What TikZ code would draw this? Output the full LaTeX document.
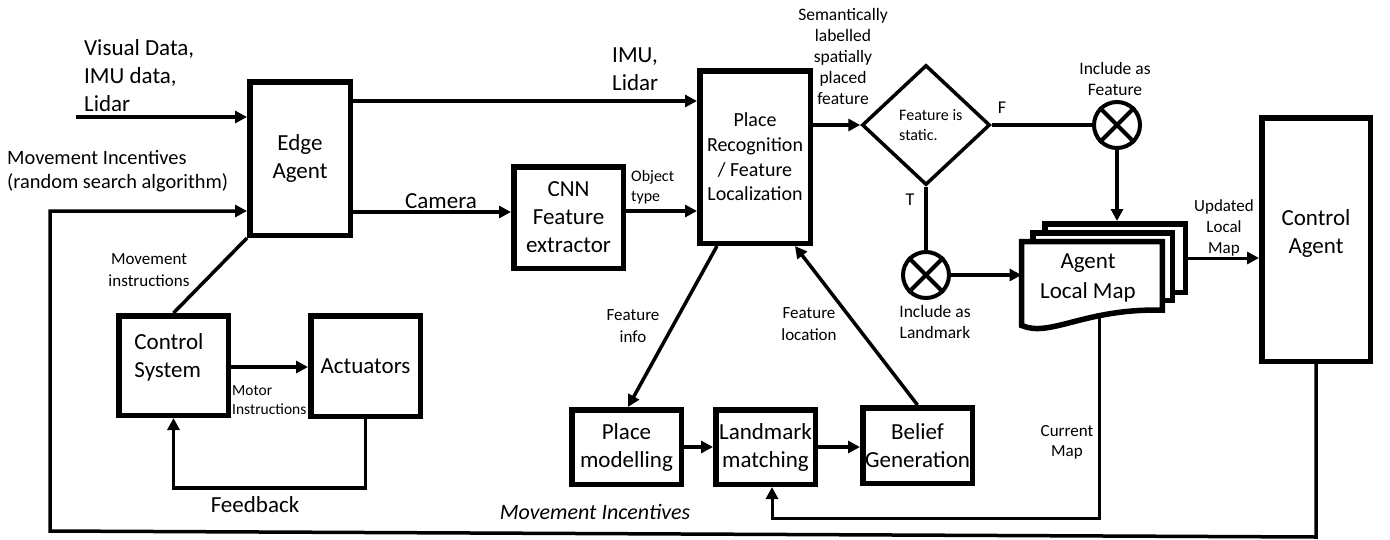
\documentclass[tikz,border=0pt]{standalone}
\usepackage{fontspec}
\setmainfont{Carlito}
\usetikzlibrary{arrows.meta,shapes.geometric}
\newcommand\fsz[2]{\fontsize{#1}{#2}\selectfont}

\begin{document}
\begin{tikzpicture}[x=1pt,y=-1pt,
  box/.style={draw, line width=5.5pt, inner sep=0pt, align=center, font=\fsz{23}{28}},
  arr/.style={line width=3.5pt, -{Triangle[length=12pt,width=12pt]}},
  ln/.style={line width=3.5pt},
  lbl/.style={font=\fsz{23}{28}, inner sep=0pt},
  sm/.style={font=\fsz{17.5}{21}, inner sep=0pt, align=center},
  dia/.style={diamond, draw, line width=3.5pt, minimum width=128pt, minimum height=120pt, inner sep=0pt},
  junction/.style={circle, draw, line width=4pt, minimum size=46pt, inner sep=0pt},
  doc/.style={draw, fill=white, line width=5.5pt, inner sep=0pt},
]
\useasboundingbox[fill=white] (0,0) rectangle (1390,539);

% reference levels for horizontal connectors
\coordinate (y1) at (0,101);
\coordinate (y2) at (0,212);
\coordinate (y3) at (0,211);
\coordinate (y5) at (0,367);
\coordinate (y6) at (0,488);
\coordinate (vin) at (76,117);
\coordinate (cm) at (1099,518);
\coordinate (b1) at (1316,537);
\coordinate (b2) at (50,531);
\coordinate (b3) at (50,211);

% blocks
\node[box, minimum width=100.5pt, minimum height=153.5pt] (ea) at (300,158.5) {Edge\\Agent};
\node[box, minimum width=109.5pt, minimum height=101.5pt] (cnn) at (568.5,217.5) {CNN\\Feature\\extractor};
\node[box, font=\fsz{20}{24.7}, minimum width=110.5pt, minimum height=172.5pt] (pr) at (755,157) {Place\\Recognition\\/ Feature\\Localization};
\node[dia] (dia) at (926,125) {};
\node[junction] (c1) at (1117,125) {};
\node[junction] (c2) at (926,275) {};
\node[box, minimum width=108.5pt, minimum height=243.5pt] (ca) at (1316,239.5) {};
\node[lbl, align=center] (catext) at (1316,233) {Control\\Agent};
\node[box, minimum width=109.5pt, minimum height=99.5pt] (cs) at (173.5,365.5) {};
\node[lbl, align=left] (cstext) at (169,357) {Control\\System};
\node[box, minimum width=109.5pt, minimum height=100.5pt] (act) at (365.5,366) {Actuators};
\node[box, minimum width=109.5pt, minimum height=74.5pt] (pm) at (626.5,447) {Place\\modelling};
\node[box, minimum width=99.5pt, minimum height=74.5pt] (lm) at (765.5,447) {Landmark\\matching};
\node[box, minimum width=109.5pt, minimum height=75.5pt] (bg) at (917.5,445.5) {Belief\\Generation};
\node[inner sep=0pt, minimum width=140.5pt, minimum height=83.5pt] (map1) at (1092,283.5) {};

% crosses in the junctions
\foreach \c in {c1,c2}{
  \draw[line width=4pt] (\c.north east) -- (\c.south west);
  \draw[line width=4pt] (\c.north west) -- (\c.south east);
}

% current map feedback (runs under the map stack)
\draw[arr, line width=3pt] ([xshift=7pt]map1.center) -- (cm) -| ([xshift=6.5pt]lm.south);

% map stack
\node[doc, minimum width=140.5pt, minimum height=68.5pt] (map3) at (1115,258) {};
\node[doc, minimum width=139.5pt, minimum height=67.5pt] (map2) at (1102.5,266.5) {};
\draw[doc] (map1.north west) -- (map1.north east) -- ([yshift=15.25pt]map1.south east)
  .. controls (1085,308) and (1050,338) .. (map1.south west) -- cycle;
\node[lbl, align=center, font=\fsz{23}{30}] (maptext) at (1088,278) {Agent\\Local Map};

% connectors
\draw[arr] (vin) -- (vin -| ea.west);
\draw[arr] (ea.east |- y1) -- (pr.west |- y1);
\draw[arr] (ea.east |- y2) -- (cnn.west |- y2);
\draw[arr] (cnn.east |- y3) -- (pr.west |- y3);
\draw[arr] (pr.east |- dia.west) -- (dia.west);
\draw[ln] (dia.east) -- (c1.west);
\draw[ln] (dia.south) -- (c2.north);
\draw[arr] (c2.east) -- (c2.east -| map1.west);
\draw[arr] (c1.south) -- (c1.south |- map3.north);
\draw[arr, line width=3pt] (map3.east) -- (map3.east -| ca.west);
\draw[arr] (ca.south) -- (b1) -- (b2) -- (b3) -- (b3 -| ea.west);
\draw[ln] (ea.south west) -- (cs.north);
\draw[arr] (cs.east |- y5) -- (act.west |- y5);
\draw[arr] (act.south) -- (act.south |- y6) -| (cs.south);
\draw[arr] ([xshift=-38pt]pr.south) -- ([xshift=1.5pt]pm.north);
\draw[arr] (bg.north) -- ([xshift=40pt]pr.south);
\draw[arr] (pm.east) -- (lm.west);
\draw[arr] (lm.east) -- (bg.west |- lm.east);

% labels
\node[lbl, anchor=west, align=left] (vislbl) at (84,76) {Visual Data,\\IMU data,\\Lidar};
\node[inner sep=0pt, anchor=west, align=left, font=\fsz{20.4}{24}] (movlbl) at (7,171) {Movement Incentives\\(random search algorithm)};
\node[lbl, anchor=west, align=left] (imulbl) at (612,69) {IMU,\\Lidar};
\node[lbl] (camlbl) at (441,201) {Camera};
\node[sm, anchor=west, align=left, font=\fsz{16}{20}] (objlbl) at (631,187) {Object\\type};
\node[sm] (semlbl) at (843,56) {Semantically\\labelled\\spatially\\placed\\feature};
\node[sm, anchor=west, align=left, font=\fsz{16}{20}] (statlbl) at (899,125) {Feature is\\static.};
\node[inner sep=0pt, font=\fsz{18}{22}] (flbl) at (1002,108) {F};
\node[inner sep=0pt, font=\fsz{18}{22}] (tlbl) at (910,200) {T};
\node[sm] (inclf) at (1115,79) {Include as\\Feature};
\node[sm] (incll) at (935,322) {Include as\\Landmark};
\node[sm, font=\fsz{17}{21}] (updlbl) at (1224,228) {Updated\\Local\\Map};
\node[sm, font=\fsz{17}{20}] (curlbl) at (1067,442) {Current\\Map};
\node[sm, font=\fsz{17}{22}] (finfo) at (633,326) {Feature\\info};
\node[sm, font=\fsz{17}{22}] (floc) at (809,324) {Feature\\location};
\node[sm, font=\fsz{17}{22}] (movinstr) at (149,270) {Movement\\instructions};
\node[sm, anchor=west, align=left, font=\fsz{15.5}{19}] (motlbl) at (232,400) {Motor\\Instructions};
\node[lbl] (fblbl) at (255,505) {Feedback};
\node[inner sep=0pt, font=\fsz{22}{26}\itshape] (mvinc) at (595,512) {Movement Incentives};
\end{tikzpicture}
\end{document}
